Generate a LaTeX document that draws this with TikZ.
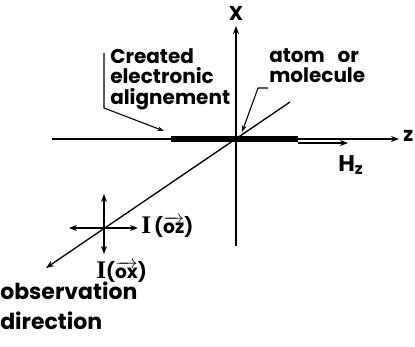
\documentclass[tikz,border=0pt]{standalone}
\usepackage{amsmath}
\usepackage{fontspec}
\setmainfont{Poppins}
\newfontfamily\serifI{Liberation Serif}
\usetikzlibrary{arrows.meta, positioning}
\tikzset{
	axis/.style ={-{Stealth[length=6pt, width=4.5pt]}, line width=1pt},
	pol/.style  ={{Stealth[length=6pt, width=4.5pt]}-{Stealth[length=6pt, width=4.5pt]}, line width=1pt},
	lead/.style ={-{Stealth[length=5pt, width=3.5pt]}, line width=0.8pt},
	lbl/.style  ={inner sep=0pt, align=left, font=\bfseries\fontsize{15}{15.5}\selectfont},
	ilbl/.style ={inner sep=0pt, font=\bfseries\fontsize{14}{15}\selectfont},
}

\begin{document}
\begin{tikzpicture}[x=0.75pt, y=-0.75pt]
	\useasboundingbox (0,0) rectangle (415,347);
	% axes
	\coordinate (O) at (236,139);
	\coordinate (xbot) at (236,246); \coordinate (xtip) at (236,26);
	\coordinate (zbot) at (52,139);  \coordinate (ztip) at (399,139);
	\coordinate (dtop) at (290,102); \coordinate (dtip) at (46,268);
	\node[lbl] (xl) at (236,13) {X};
	\node[lbl, anchor=west] (zl) at (403,136) {z};
	\draw[axis] (xbot) -- (xtip);
	\draw[axis] (zbot) -- (ztip);
	\draw[axis] (dtop) -- (dtip);
	% alignment bar and field
	\coordinate (barl) at (171,139); \coordinate (barr) at (298,139);
	\draw[line width=4.2pt] (barl) -- (barr);
	\coordinate (hs) at (298,143); \coordinate (ht) at (348,143);
	\draw[axis] (hs) -- (ht);
	\node[lbl, anchor=west, font=\bfseries\fontsize{17}{17}\selectfont] (hz) at (338,165) {H\textsubscript{z}};
	% polarisation cross
	\coordinate (c) at (104,228);
	\coordinate (cu) at (104,194); \coordinate (cd) at (104,254);
	\coordinate (cl) at (69,228);  \coordinate (cr) at (138,228);
	\draw[pol] (cu) -- (cd);
	\draw[pol] (cl) -- (cr);
	\node[ilbl, anchor=west] (iz) at (141,227) {{\serifI\fontsize{19}{19}\selectfont I}\,($\overrightarrow{\text{oz}}$)};
	\node[ilbl, anchor=west] (ix) at (96,272) {{\serifI\fontsize{19}{19}\selectfont I}($\overrightarrow{\text{ox}}$)};
	\node[lbl, anchor=north west, align=left, font=\bfseries\fontsize{16.5}{17}\selectfont] (obs) at (0,282) {observation\\[5pt]direction};
	% leaders
	\node[lbl, anchor=north west] (cea) at (110,48) {Created\\electronic\\alignement};
	\coordinate (b1) at (104,53); \coordinate (b2) at (104,108); \coordinate (b3) at (164,131);
	\draw[lead] (b1) -- (b2) -- (b3);
	\node[lbl, anchor=north west] (atm) at (269,48) {atom\ \ \ or\\molecule};
	\coordinate (a1) at (268,88); \coordinate (a2) at (258,88); \coordinate (a3) at (242,132);
	\draw[lead] (a1) -- (a2) -- (a3);
\end{tikzpicture}
\end{document}
